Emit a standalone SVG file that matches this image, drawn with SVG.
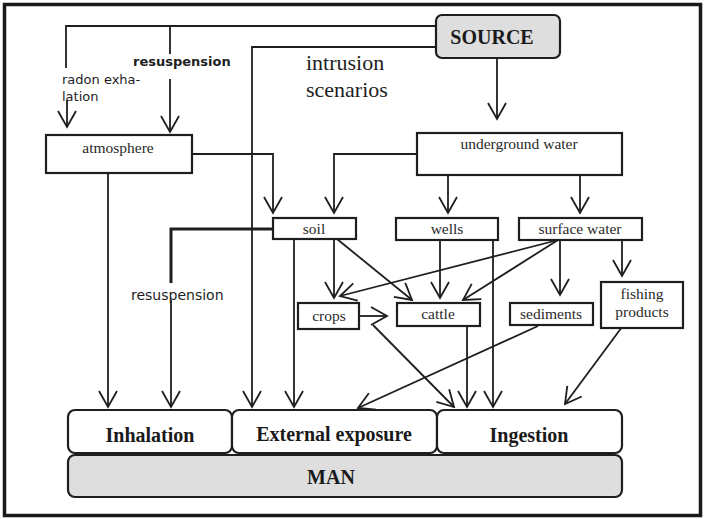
<svg xmlns="http://www.w3.org/2000/svg" width="704" height="519" viewBox="0 0 704 519">
  <style>
    .box { fill: #ffffff; stroke: #1e1e1e; stroke-width: 2.2; }
    .grey { fill: #dedede; stroke: #1e1e1e; stroke-width: 2.2; }
    .lbl { font-family: "Liberation Serif", "Times New Roman", serif; font-size: 15.5px; fill: #2a2a2a; text-anchor: middle; }
    .big { font-family: "Liberation Serif", "Times New Roman", serif; font-size: 20px; font-weight: bold; fill: #1a1a1a; text-anchor: middle; }
    .hand { font-family: "DejaVu Sans", "Verdana", sans-serif; font-size: 13px; fill: #1e1e1e; }
    .note { font-family: "Liberation Serif", "Times New Roman", serif; font-size: 22px; fill: #1e1e1e; }
    .conn path, .conn line { fill: none; stroke: #1e1e1e; stroke-width: 1.8; }
    .conn .arr { marker-end: url(#head); }
  </style>
  <defs>
    <marker id="head" viewBox="0 0 20 20" markerWidth="20" markerHeight="20" refX="18" refY="10" orient="auto" markerUnits="userSpaceOnUse">
      <path d="M2,1 L18,10 L2,19" fill="none" stroke="#1e1e1e" stroke-width="1.8"/>
    </marker>
  </defs>

  <rect x="0" y="0" width="704" height="519" fill="#ffffff"/>
  <!-- outer frame -->
  <rect x="4.5" y="4.5" width="696" height="511" fill="none" stroke="#1a1a1a" stroke-width="3.5"/>

  <!-- connectors -->
  <g class="conn">
    <!-- source: radon exhalation and resuspension to atmosphere -->
    <path d="M436,26 H66 V68"/>
    <path d="M170,26 V54"/>
    <line class="arr" x1="67" y1="100" x2="67" y2="127"/>
    <line class="arr" x1="170" y1="79" x2="170" y2="132"/>
    <!-- source: intrusion scenarios to external exposure -->
    <path class="arr" d="M436,47 H252 V407"/>
    <!-- source to underground water -->
    <line class="arr" x1="497" y1="58" x2="497" y2="119"/>
    <!-- atmosphere -->
    <path class="arr" d="M192,154 H273 V213"/>
    <line class="arr" x1="108" y1="173" x2="108" y2="407"/>
    <!-- underground water -->
    <path class="arr" d="M417,154 H334 V213"/>
    <line class="arr" x1="448" y1="175" x2="448" y2="213"/>
    <line class="arr" x1="580" y1="175" x2="580" y2="213"/>
    <!-- soil -->
    <path d="M273,229 H171 V283" style="stroke-width:3"/>
    <line class="arr" x1="171" y1="300" x2="171" y2="407"/>
    <line class="arr" x1="294" y1="239" x2="294" y2="407"/>
    <line class="arr" x1="334" y1="239" x2="334" y2="298"/>
    <line class="arr" x1="337" y1="239" x2="412" y2="300"/>
    <!-- wells -->
    <line class="arr" x1="440" y1="240" x2="440" y2="298"/>
    <line class="arr" x1="493" y1="240" x2="493" y2="407"/>
    <!-- surface water -->
    <line class="arr" x1="558" y1="240" x2="340" y2="296"/>
    <line class="arr" x1="558" y1="240" x2="463" y2="300"/>
    <line class="arr" x1="560" y1="240" x2="560" y2="295"/>
    <line class="arr" x1="622" y1="240" x2="622" y2="276"/>
    <!-- crops -->
    <line class="arr" x1="359" y1="316" x2="387" y2="316"/>
    <line class="arr" x1="373" y1="325" x2="454" y2="407"/>
    <!-- cattle -->
    <line class="arr" x1="467" y1="326" x2="467" y2="407"/>
    <!-- sediments -->
    <line class="arr" x1="538" y1="326" x2="358" y2="408"/>
    <!-- fishing products -->
    <line class="arr" x1="622" y1="327" x2="565" y2="404"/>
  </g>

  <!-- free labels on connectors -->
  <text class="hand" x="62" y="84">radon  exha-</text>
  <text class="hand" x="62" y="101">lation</text>
  <text class="hand" x="133" y="66" font-weight="bold">resuspension</text>
  <text class="hand" x="131" y="300" style="font-size:14px">resuspension</text>
  <text class="note" x="306" y="70">intrusion</text>
  <text class="note" x="306" y="97">scenarios</text>

  <g id="source">
    <rect class="grey" x="436" y="15" width="124" height="43" rx="6"/>
    <text class="big" x="492" y="44">SOURCE</text>
  </g>
  <g id="atmosphere">
    <rect class="box" x="46" y="135" width="146" height="38"/>
    <text class="lbl" x="118" y="153">atmosphere</text>
  </g>
  <g id="underground-water">
    <rect class="box" x="417" y="133" width="205" height="42"/>
    <text class="lbl" x="519" y="149">underground water</text>
  </g>
  <g id="soil">
    <rect class="box" x="273" y="218" width="83" height="21"/>
    <text class="lbl" x="314" y="234">soil</text>
  </g>
  <g id="wells">
    <rect class="box" x="396" y="218" width="102" height="22"/>
    <text class="lbl" x="447" y="234">wells</text>
  </g>
  <g id="surface-water">
    <rect class="box" x="519" y="218" width="123" height="22"/>
    <text class="lbl" x="580" y="234">surface water</text>
  </g>
  <g id="crops">
    <rect class="box" x="298" y="303" width="61" height="26"/>
    <text class="lbl" x="329" y="321">crops</text>
  </g>
  <g id="cattle">
    <rect class="box" x="397" y="303" width="83" height="23"/>
    <text class="lbl" x="438" y="319">cattle</text>
  </g>
  <g id="sediments">
    <rect class="box" x="510" y="303" width="83" height="22"/>
    <text class="lbl" x="551" y="319">sediments</text>
  </g>
  <g id="fishing-products">
    <rect class="box" x="601" y="282" width="82" height="46"/>
    <text class="lbl" x="642" y="299">fishing</text>
    <text class="lbl" x="642" y="317">products</text>
  </g>

  <g id="man">
    <rect class="grey" x="68" y="455" width="554" height="42" rx="7"/>
    <text class="big" x="331" y="484">MAN</text>
  </g>
  <g id="inhalation">
    <rect class="box" x="68" y="410" width="164" height="43" rx="7"/>
    <text class="big" x="150" y="442">Inhalation</text>
  </g>
  <g id="external-exposure">
    <rect class="box" x="232" y="410" width="205" height="43" rx="7"/>
    <text class="big" x="334" y="441">External exposure</text>
  </g>
  <g id="ingestion">
    <rect class="box" x="437" y="410" width="185" height="43" rx="7"/>
    <text class="big" x="529" y="442">Ingestion</text>
  </g>
</svg>
